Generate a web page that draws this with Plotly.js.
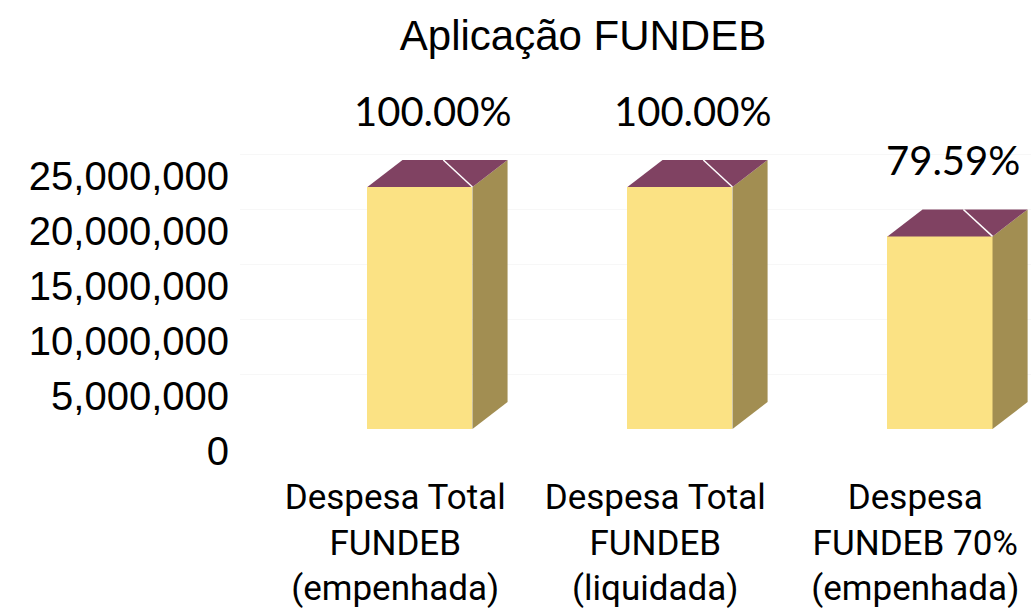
<!DOCTYPE html>
<html>
<head>
<meta charset="utf-8">
<script src="https://cdn.plot.ly/plotly-3.0.1.min.js"></script>
<style>html,body{margin:0;padding:0;background:#fff;}#chart{width:1033px;height:609px;}</style>
</head>
<body>
<div id="chart"></div>
<script>
// ---- data ----
const categories = [
  "Despesa Total<br>FUNDEB<br>(empenhada)",
  "Despesa Total<br>FUNDEB<br>(liquidada)",
  "Despesa<br>FUNDEB 70%<br>(empenhada)"
];
const values = [22000000, 22000000, 17510000];
const percentLabels = ["100.00%", "100.00%", "79.59%"];
const yTickVals = [0, 5000000, 10000000, 15000000, 20000000, 25000000];
const yTickText = ["0", "5,000,000", "10,000,000", "15,000,000", "20,000,000", "25,000,000"];

// ---- style ----
const barW = 0.404;          // front face width (category units)
const depthX = 0.135;        // oblique depth offset (category units)
const depthY = 2450000;      // oblique depth offset (value units)
const frontColor = "rgb(251,226,132)";
const sideColor = "rgb(162,142,82)";
const topColor = "rgb(128,66,98)";
const xs = categories.map((c, i) => i);

const traces = [];
// front faces
traces.push({
  type: "bar", x: xs, y: values, width: barW,
  marker: {color: frontColor, line: {width: 0}},
  hoverinfo: "skip", showlegend: false
});
// side + top faces
xs.forEach((x, i) => {
  const v = values[i];
  const r = x + barW / 2, l = x - barW / 2;
  traces.push({
    type: "scatter", mode: "lines", fill: "toself", fillcolor: sideColor,
    line: {width: 0, color: sideColor},
    x: [r, r + depthX, r + depthX, r, r],
    y: [0, depthY, v + depthY, v, 0],
    hoverinfo: "skip", showlegend: false
  });
  traces.push({
    type: "scatter", mode: "lines", fill: "toself", fillcolor: topColor,
    line: {width: 0, color: topColor},
    x: [l, l + depthX, r + depthX, r, l],
    y: [v, v + depthY, v + depthY, v, v],
    hoverinfo: "skip", showlegend: false
  });
  traces.push({
    type: "scatter", mode: "lines",
    line: {width: 1.5, color: "#ffffff"},
    x: [r, r - depthX * 0.83],
    y: [v, v + depthY],
    hoverinfo: "skip", showlegend: false
  });
});

const annotations = xs.map((x, i) => ({
  x: x + 0.05, y: values[i] + depthY, xref: "x", yref: "y",
  text: percentLabels[i], showarrow: false,
  yanchor: "middle", xanchor: "center", yshift: 49,
  font: {family: "Lato, 'Liberation Sans', sans-serif", size: 40, color: "#000"}
}));

const layout = {
  width: 1033, height: 609,
  paper_bgcolor: "#fff", plot_bgcolor: "#fff",
  margin: {l: 240, r: 2, t: 121, b: 180},
  title: {
    text: "Aplicação FUNDEB",
    x: 583 / 1033, xref: "container", xanchor: "center",
    y: 1 - 35 / 609, yref: "container", yanchor: "middle",
    font: {family: "'Liberation Sans', Arial, sans-serif", size: 42, color: "#000"}
  },
  xaxis: {
    range: [-0.692, 2.35],
    tickvals: xs.map(x => x - 0.095),
    ticktext: categories,
    showgrid: false, zeroline: false, showline: false, ticks: "",
    ticklabelstandoff: 44,
    tickfont: {family: "Roboto, 'Liberation Sans', sans-serif", size: 35, color: "#000"},
    fixedrange: true
  },
  yaxis: {
    range: [0, 28000000],
    tickvals: yTickVals, ticktext: yTickText,
    showgrid: true, gridcolor: "#f7f7f7", gridwidth: 1,
    zeroline: false, showline: false, ticks: "",
    ticklabelshift: 22, ticklabelstandoff: 10,
    tickfont: {family: "'Liberation Sans', Arial, sans-serif", size: 40, color: "#000"},
    fixedrange: true
  },
  annotations: annotations,
  bargap: 0
};

Plotly.newPlot("chart", traces, layout, {displayModeBar: false, staticPlot: true});
</script>
</body>
</html>
